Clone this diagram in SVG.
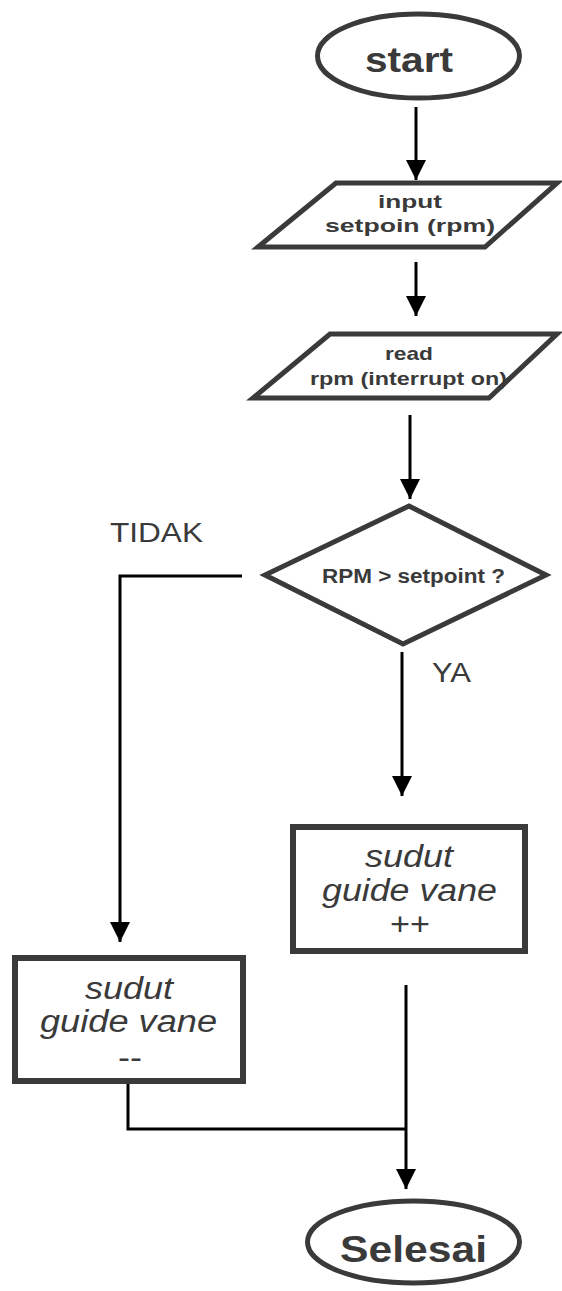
<svg xmlns="http://www.w3.org/2000/svg" width="562" height="1291" viewBox="0 0 562 1291">
<style>
.shape{fill:#fff;stroke:#3a3a3a;stroke-width:5;stroke-linejoin:miter}
.box{fill:#fff;stroke:#3a3a3a;stroke-width:6}
.conn{fill:none;stroke:#000;stroke-width:3}
.b{font-family:"Liberation Sans",Arial,sans-serif;font-weight:bold;fill:#3a3a3a}
.r{font-family:"Liberation Sans",Arial,sans-serif;fill:#3a3a3a}
.i{font-family:"Liberation Sans",Arial,sans-serif;font-style:italic;fill:#3a3a3a}
</style>
<defs>
<marker id="ah" markerUnits="userSpaceOnUse" markerWidth="22" markerHeight="20" refX="20" refY="10" orient="auto">
<path d="M0,0 L20,10 L0,20 Z" fill="#000"/>
</marker>
</defs>
<g id="connectors">
<line class="conn" x1="416" y1="107" x2="416" y2="180" marker-end="url(#ah)"/>
<line class="conn" x1="416" y1="262" x2="416" y2="316" marker-end="url(#ah)"/>
<line class="conn" x1="410" y1="415" x2="410" y2="499" marker-end="url(#ah)"/>
<polyline class="conn" points="242,576 120,576 120,942" marker-end="url(#ah)"/>
<line class="conn" x1="402" y1="652" x2="402" y2="796" marker-end="url(#ah)"/>
<line class="conn" x1="406" y1="985" x2="406" y2="1189" marker-end="url(#ah)"/>
<polyline class="conn" points="128,1084 128,1129 406,1129"/>
<text class="r" x="110" y="542" font-size="28" textLength="93" lengthAdjust="spacingAndGlyphs">TIDAK</text>
<text class="r" x="432" y="682" font-size="28" textLength="39" lengthAdjust="spacingAndGlyphs">YA</text>
</g>
<g id="start">
<ellipse class="shape" cx="418.5" cy="56" rx="101" ry="42"/>
<text class="b" x="365" y="72" font-size="35" textLength="88" lengthAdjust="spacingAndGlyphs">start</text>
</g>
<g id="input">
<polygon class="shape" points="336,183 557,183 485,247 258,247"/>
<text class="b" x="378" y="208" font-size="19" textLength="64" lengthAdjust="spacingAndGlyphs">input</text>
<text class="b" x="325" y="232" font-size="19" textLength="170" lengthAdjust="spacingAndGlyphs">setpoin (rpm)</text>
</g>
<g id="read">
<polygon class="shape" points="330,334 557,334 489,398 253,398"/>
<text class="b" x="385" y="360" font-size="19" textLength="48" lengthAdjust="spacingAndGlyphs">read</text>
<text class="b" x="310" y="385" font-size="19" textLength="197" lengthAdjust="spacingAndGlyphs">rpm (interrupt on)</text>
</g>
<g id="decision">
<polygon class="shape" points="409,506 546,575 403,644 265,575"/>
<text class="b" x="322" y="583" font-size="20" textLength="183" lengthAdjust="spacingAndGlyphs">RPM &gt; setpoint ?</text>
</g>
<g id="increase">
<rect class="box" x="293" y="827" width="232" height="124"/>
<text class="i" x="365" y="867" font-size="31" textLength="88" lengthAdjust="spacingAndGlyphs">sudut</text>
<text class="i" x="322" y="901" font-size="31" textLength="175" lengthAdjust="spacingAndGlyphs">guide vane</text>
<text class="r" x="390" y="935" font-size="31" textLength="40" lengthAdjust="spacingAndGlyphs">++</text>
</g>
<g id="decrease">
<rect class="box" x="15" y="958" width="228" height="123"/>
<text class="i" x="85" y="999" font-size="31" textLength="88" lengthAdjust="spacingAndGlyphs">sudut</text>
<text class="i" x="40" y="1032" font-size="31" textLength="177" lengthAdjust="spacingAndGlyphs">guide vane</text>
<text class="r" x="118" y="1068" font-size="31" textLength="24" lengthAdjust="spacingAndGlyphs">--</text>
</g>
<g id="end">
<ellipse class="shape" cx="413.5" cy="1242" rx="106" ry="41"/>
<text class="b" x="340" y="1262" font-size="37" textLength="147" lengthAdjust="spacingAndGlyphs">Selesai</text>
</g>
</svg>
